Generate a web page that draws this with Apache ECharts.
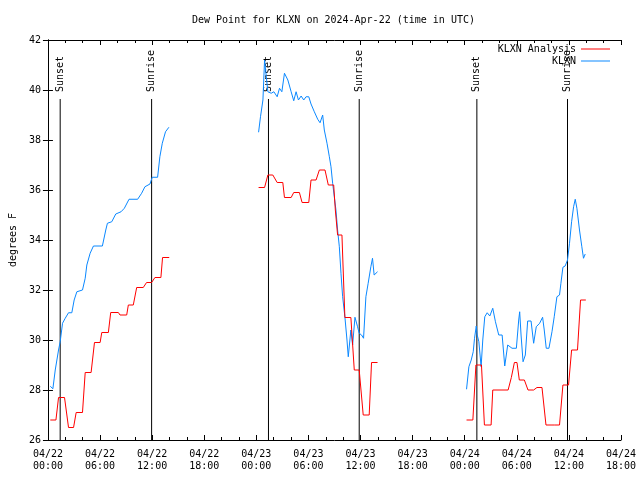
<!DOCTYPE html>
<html><head><meta charset="utf-8">
<script src="https://cdn.jsdelivr.net/npm/echarts@6/dist/echarts.min.js"></script>
<style>html,body{margin:0;padding:0;background:#fff}#c{width:640px;height:480px}</style>
</head><body><div id="c"></div>
<script>
const titleText = 'Dew Point for KLXN on 2024-Apr-22 (time in UTC)';
const yAxisName = 'degrees F';
const xTickLabels = ['04/22\n00:00','04/22\n06:00','04/22\n12:00','04/22\n18:00',
  '04/23\n00:00','04/23\n06:00','04/23\n12:00','04/23\n18:00',
  '04/24\n00:00','04/24\n06:00','04/24\n12:00','04/24\n18:00'];
// hours since 04/22 00:00 UTC; null value = gap
const redHours = [0.27,0.92,1.22,1.91,2.37,2.95,3.25,3.98,4.29,4.97,5.36,6.01,6.2,6.96,7.23,8.11,8.30,9.07,9.26,9.83,10.22,10.98,11.36,11.94,12.32,13.01,13.2,13.97,
  18,
  24.26,24.95,25.33,25.9,26.4,27.05,27.24,28.01,28.31,28.96,29.27,30.04,30.3,30.88,31.26,31.91,32.29,32.91,33.1,33.24,33.36,33.86,34.2,34.89,35.28,35.85,36.31,37.0,37.27,37.96,
  43,
  48.21,48.94,49.29,49.93,50.27,51.04,51.23,53.0,53.37,53.72,54.02,54.29,54.87,55.29,55.94,56.32,56.9,57.36,58.05,58.31,58.92,59.31,59.96,60.31,60.99,61.34,61.95];
const redValues = [26.8,26.8,27.7,27.7,26.5,26.5,27.1,27.1,28.7,28.7,29.9,29.9,30.3,30.3,31.1,31.1,31.0,31.0,31.4,31.4,32.1,32.1,32.3,32.3,32.5,32.5,33.3,33.3,
  null,
  36.1,36.1,36.6,36.6,36.3,36.3,35.7,35.7,35.9,35.9,35.5,35.5,36.4,36.4,36.8,36.8,36.2,36.2,35.2,35.2,34.2,34.2,30.9,30.9,28.8,28.8,27.0,27.0,29.1,29.1,
  null,
  26.8,26.8,29.0,29.0,26.6,26.6,28.0,28.0,28.5,29.1,29.1,28.4,28.4,28.0,28.0,28.1,28.1,26.6,26.6,26.6,26.6,28.2,28.2,29.6,29.6,31.6,31.6];
const blueHours = [0.27,0.57,0.84,1.22,1.41,1.68,1.99,2.37,2.75,3.02,3.33,3.98,4.29,4.48,4.86,5.24,6.27,6.66,6.85,7.35,7.81,8.42,8.8,9.34,10.33,10.79,11.17,11.75,12.01,12.63,12.89,13.17,13.54,13.93,
  18,
  24.26,24.48,24.76,24.95,25.14,25.33,25.71,26.02,26.4,26.67,26.94,27.24,27.63,28.01,28.31,28.58,28.85,29.16,29.46,29.73,30.04,30.3,30.68,31.07,31.34,31.64,31.83,32.14,32.41,32.6,32.79,32.98,33.17,33.36,33.56,33.75,33.94,34.2,34.44,34.59,34.89,35.09,35.36,35.66,35.85,36.12,36.35,36.62,36.88,37.19,37.38,37.57,37.96,
  43,
  48.21,48.48,48.75,48.98,49.13,49.33,49.44,49.63,49.89,50.08,50.31,50.59,50.89,51.23,51.54,51.92,52.31,52.61,52.95,53.45,53.95,54.22,54.33,54.49,54.72,54.98,55.25,55.64,55.94,56.24,56.63,56.97,57.16,57.39,57.7,58.05,58.31,58.62,58.92,59.08,59.31,59.57,59.84,60.07,60.31,60.54,60.73,60.92,61.22,61.49,61.68,61.88];
const blueValues = [28.15,28.05,28.8,29.6,29.93,30.67,30.87,31.09,31.09,31.6,31.93,32.0,32.47,33.0,33.47,33.76,33.76,34.4,34.67,34.73,35.04,35.13,35.27,35.63,35.63,35.87,36.13,36.24,36.51,36.51,37.33,37.87,38.33,38.51,
  null,
  38.31,38.93,39.6,41.2,41.13,39.93,39.87,39.93,39.73,40.07,39.93,40.67,40.4,39.93,39.57,39.93,39.6,39.76,39.6,39.73,39.73,39.44,39.13,38.83,38.69,39.0,38.4,37.87,37.33,36.93,36.27,35.73,35.2,34.4,33.73,32.67,31.73,30.93,30.0,29.33,30.4,29.8,30.91,30.53,30.27,30.2,30.07,31.73,32.27,32.93,33.27,32.6,32.73,
  null,
  28.03,28.93,29.2,29.53,30.07,30.56,30.2,29.93,28.93,30.0,30.93,31.09,30.96,31.27,30.73,30.2,30.2,28.96,29.8,29.67,29.67,30.8,31.13,30.2,29.13,29.4,30.76,30.76,29.87,30.53,30.67,30.91,30.4,29.67,29.67,30.33,30.93,31.73,31.8,32.27,32.91,32.96,33.2,33.87,34.73,35.33,35.63,35.27,34.4,33.73,33.27,33.44];
const eventNames = ['Sunset','Sunrise','Sunset','Sunrise','Sunset','Sunrise'];
const eventHours = [1.41,11.94,25.4,35.85,49.4,59.84];
const eventLineTop = 39.64;

const FONT = 'DejaVu Sans Mono';
const toData = (hs, vs) => hs.map((h, i) => [h, vs[i] === null ? '-' : vs[i]]);

const chart = echarts.init(document.getElementById('c'), null, {renderer: 'canvas'});
const axisCommon = {
  axisLine: {lineStyle: {color: '#000', width: 1}},
  axisTick: {inside: true, length: 5, lineStyle: {color: '#000'}},
  splitLine: {show: false}
};
const option = {
  animation: false,
  backgroundColor: '#fff',
  title: {text: titleText, left: 192, top: 15, padding: 0,
    textStyle: {fontFamily: FONT, fontSize: 10, fontWeight: 'normal', color: '#000'}},
  legend: [
    {data: ['KLXN Analysis'], right: 30, top: 44, padding: 0, align: 'right', icon: 'rect',
      itemWidth: 29, itemHeight: 1, textStyle: {fontFamily: FONT, fontSize: 10, color: '#000'}},
    {data: ['KLXN'], right: 30, top: 56, padding: 0, align: 'right', icon: 'rect',
      itemWidth: 29, itemHeight: 1, textStyle: {fontFamily: FONT, fontSize: 10, color: '#000'}}
  ],
  grid: {left: 46, right: 19, top: 40, bottom: 40},
  xAxis: [
    Object.assign({type: 'value', min: 0, max: 66, interval: 6, position: 'bottom',
      minorTick: {show: true, splitNumber: 3, length: 3, lineStyle: {color: '#000'}},
      axisLabel: {formatter: v => xTickLabels[Math.round(v / 6)], fontFamily: FONT, fontSize: 10,
        color: '#000', lineHeight: 12, margin: 8}}, axisCommon),
    Object.assign({type: 'value', min: 0, max: 66, interval: 6, position: 'top',
      minorTick: {show: true, splitNumber: 3, length: 3, lineStyle: {color: '#000'}},
      axisLabel: {show: false}}, axisCommon)
  ],
  yAxis: [
    Object.assign({type: 'value', min: 26, max: 42, interval: 2, position: 'left',
      name: yAxisName, nameLocation: 'middle', nameGap: 28, nameRotate: 90,
      nameTextStyle: {fontFamily: FONT, fontSize: 10, color: '#000'},
      axisLabel: {fontFamily: FONT, fontSize: 10, color: '#000', margin: 7}}, axisCommon),
    Object.assign({type: 'value', min: 26, max: 42, interval: 2, position: 'right',
      axisLabel: {show: false}}, axisCommon)
  ],
  series: [
    {type: 'custom', xAxisIndex: 0, yAxisIndex: 0, silent: true, clip: false, z: 1,
      data: eventHours.map((h, i) => [h, eventLineTop, i]),
      renderItem: function (params, api) {
        const h = api.value(0), i = api.value(2);
        const p0 = api.coord([h, 26]);
        const p1 = api.coord([h, api.value(1)]);
        return {type: 'group', children: [
          {type: 'line', shape: {x1: p0[0], y1: p0[1], x2: p1[0], y2: p1[1]},
            style: {stroke: '#000', lineWidth: 1}},
          {type: 'text', x: p1[0], y: p1[1] - 7, rotation: Math.PI / 2,
            style: {text: eventNames[i], align: 'left', verticalAlign: 'middle',
              textAlign: 'left', textVerticalAlign: 'middle',
              font: '10px ' + FONT, fill: '#000'}}
        ]};
      }},
    {name: 'KLXN Analysis', type: 'line', xAxisIndex: 0, yAxisIndex: 0, data: toData(redHours, redValues),
      showSymbol: false, symbol: 'none', connectNulls: false, z: 3,
      lineStyle: {width: 1, color: '#ff0000'}, itemStyle: {color: '#ff0000'}},
    {name: 'KLXN', type: 'line', xAxisIndex: 0, yAxisIndex: 0, data: toData(blueHours, blueValues),
      showSymbol: false, symbol: 'none', connectNulls: false, z: 2,
      lineStyle: {width: 1, color: '#0a88ff'}, itemStyle: {color: '#0a88ff'}}
  ]
};
chart.setOption(option);
</script>
</body></html>
